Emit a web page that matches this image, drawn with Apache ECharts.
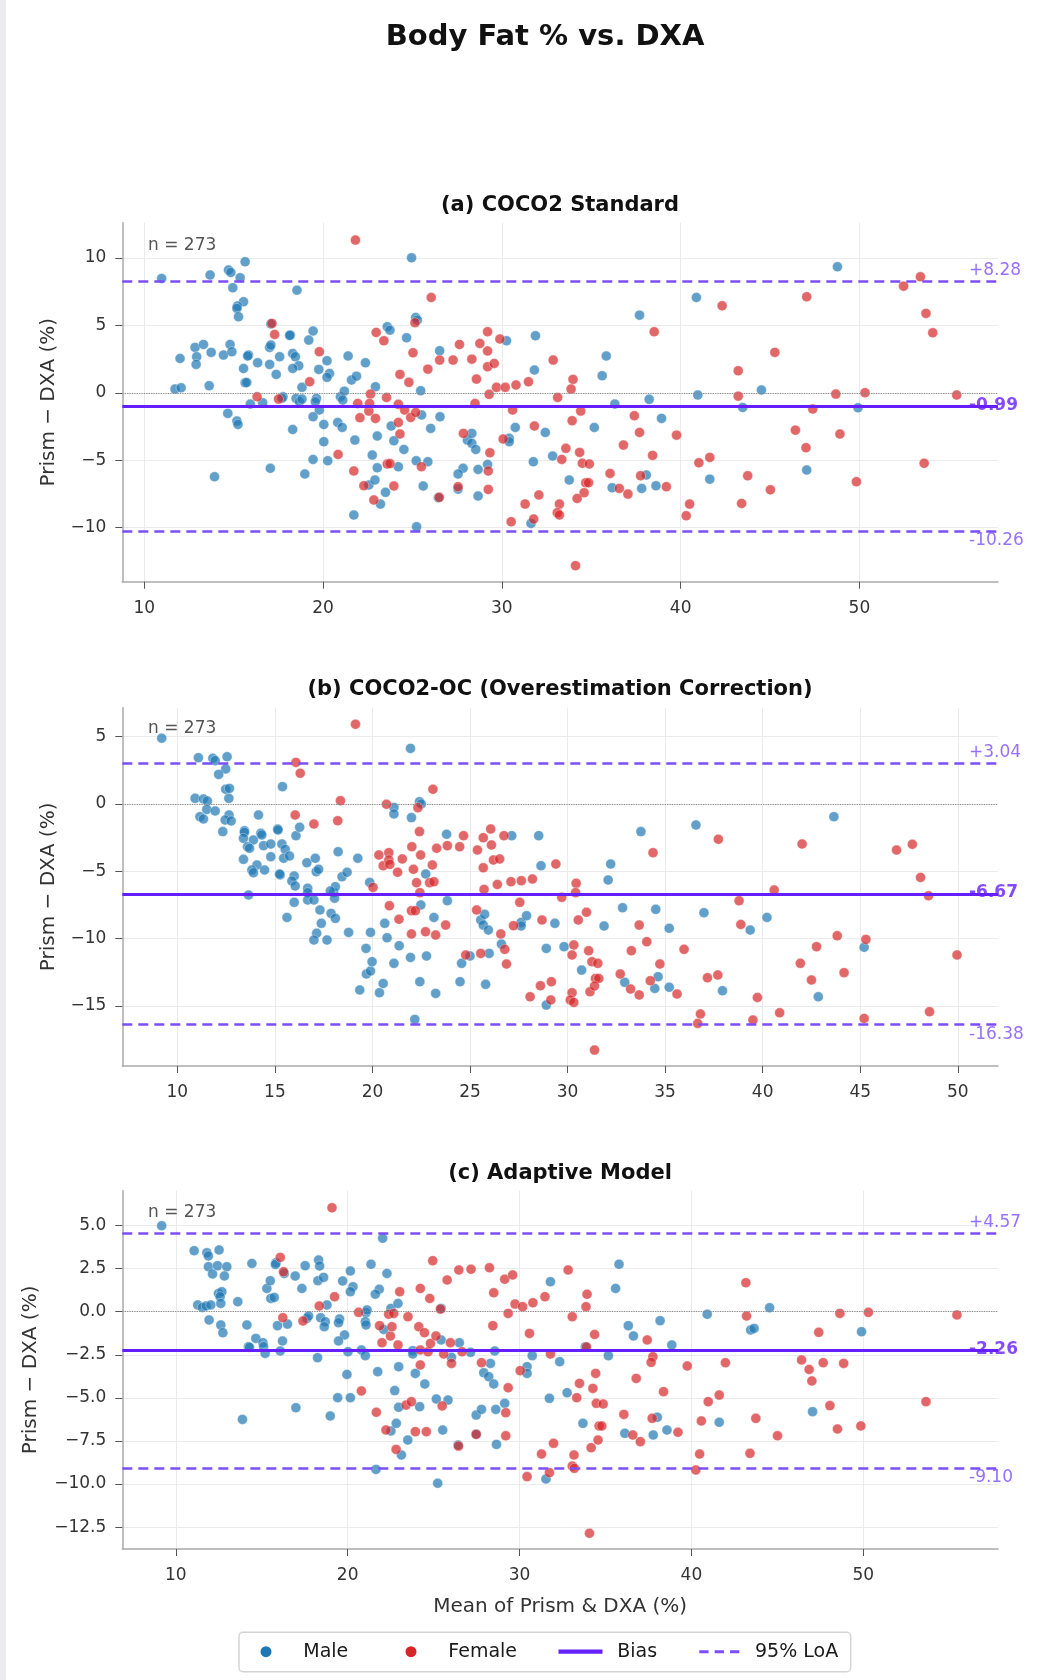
<!DOCTYPE html>
<html>
<head>
<meta charset="utf-8">
<title>Body Fat % vs. DXA</title>
<script src="https://cdn.jsdelivr.net/npm/echarts@6/dist/echarts.min.js"></script>
<style>
  html, body { margin: 0; padding: 0; background: #fff; }
  #chart { width: 1037px; height: 1680px; }
</style>
</head>
<body>
<div id="chart"></div>
<script>
// Bland-Altman points: [mean of Prism & DXA, Prism - DXA]
const coco2Male = [
  [10.97,8.47],[13.68,8.72],[14.71,9.09],[14.84,8.91],[15.64,9.70],[15.36,8.52],[14.95,7.78],[15.55,6.74],[15.21,6.42],[15.18,6.25],
  [15.27,5.63],[18.54,7.6],[17.08,5.1],[12.0,2.54],[12.84,3.36],[12.93,2.67],[12.9,2.10],[13.31,3.58],[13.74,2.99],[14.43,2.79],
  [14.8,3.58],[14.9,3.04],[15.83,2.79],[15.78,2.72],[16.34,2.22],[15.55,1.8],[17.01,3.36],[17.08,3.53],[17.57,2.67],[17.01,2.10],
  [17.38,1.36],[18.17,4.27],[18.13,4.25],[18.3,2.91],[18.45,2.67],[18.64,2.0],[18.3,1.8],[19.44,4.57],[19.2,3.9],[20.22,2.37],
  [19.76,1.73],[20.36,1.43],[20.22,1.14],[18.82,0.40],[15.64,0.74],[15.73,0.76],[11.72,0.27],[12.06,0.37],[13.63,0.52],[13.93,-6.22],
  [14.67,-1.53],[15.18,-2.1],[15.24,-2.35],[15.93,-0.84],[16.62,-0.74],[17.76,-0.3],[17.7,-0.4],[18.49,-0.42],[18.68,-0.67],[18.82,-0.47],
  [19.63,-0.42],[19.57,-0.67],[19.79,-1.28],[19.44,-1.78],[18.3,-2.72],[20.04,-2.35],[20.04,-3.63],[19.44,-4.94],[20.26,-5.04],[17.05,-5.6],
  [18.98,-6.02],[20.82,-2.2],[21.07,-2.57],[20.97,-0.3],[21.19,0.12],[21.1,-0.54],[21.4,2.72],[22.37,2.22],[21.59,0.94],[21.87,1.23],
  [22.93,0.44],[21.78,-3.51],[23.03,-3.21],[22.75,-4.62],[21.72,-9.06],[22.56,-6.84],[22.9,-6.47],[23.03,-5.56],[23.21,-8.25],[23.49,-7.38],
  [23.59,4.89],[23.74,4.64],[23.81,-2.47],[23.96,-3.56],[24.21,-5.48],[24.52,-4.2],[24.67,4.07],[25.18,5.58],[25.27,5.38],[24.95,10.0],
  [25.51,-1.65],[25.46,0.15],[25.21,-5.04],[25.23,-9.93],[25.6,-6.91],[25.86,-5.11],[26.02,-2.64],[26.52,3.11],[26.54,-1.78],[26.45,-7.78],
  [30.26,3.85],[28.07,-3.51],[28.32,-3.01],[28.32,-3.75],[28.54,-4.2],[30.41,-3.38],[30.41,-3.63],[30.75,-2.57],[27.83,-5.6],[27.55,-6.02],
  [28.67,-5.68],[29.2,-5.31],[27.55,-7.14],[28.67,-7.65],[31.88,4.22],[31.82,1.68],[32.43,-2.94],[31.76,-5.11],[32.84,-4.69],[33.77,-6.47],
  [31.63,-9.68],[35.17,-2.57],[35.61,1.26],[35.84,2.72],[36.32,-0.84],[36.17,-7.04],[37.7,5.75],[38.24,-0.49],[38.93,-1.9],[38.08,-6.1],
  [37.82,-7.09],[38.62,-6.89],[40.88,7.06],[40.96,-0.17],[41.63,-6.4],[43.47,-1.09],[44.52,0.2],[47.05,-5.73],[48.77,9.33],[49.92,-1.11]
];
const coco2Female = [
  [17.14,5.14],[17.29,4.32],[19.79,3.04],[19.25,0.81],[16.31,-0.3],[17.51,-0.47],[21.81,11.31],[21.94,-0.79],[22.06,-1.85],[22.56,-1.36],
  [22.65,-0.1],[22.6,-0.79],[22.93,-1.9],[20.84,-4.57],[21.72,-5.8],[22.28,-6.89],[22.84,-7.95],[22.97,4.47],[23.4,3.85],[23.55,-0.35],
  [23.59,-5.28],[23.74,-5.25],[23.96,-6.91],[24.21,-2.2],[24.3,-3.06],[24.21,-0.86],[24.56,-1.28],[24.3,1.36],[24.8,0.77],[25.14,5.19],
  [25.03,2.96],[24.9,-1.83],[25.18,-1.46],[25.5,-5.48],[25.86,1.75],[26.05,7.06],[26.52,2.42],[26.5,-7.75],[27.27,2.42],[27.63,3.58],
  [28.32,2.49],[28.58,1.01],[28.77,3.65],[29.2,4.52],[29.2,3.09],[29.2,1.93],[29.57,2.17],[29.89,3.98],[29.29,-0.12],[28.5,-0.79],
  [29.7,0.4],[30.19,0.4],[30.79,0.57],[30.6,-1.28],[27.85,-3.01],[29.33,-4.44],[30.07,-3.43],[29.24,-5.8],[27.55,-6.96],[29.24,-7.16],
  [30.52,-9.56],[32.87,2.42],[31.49,0.81],[33.12,-0.35],[33.98,0.99],[33.87,0.27],[34.41,-1.36],[33.93,-2.07],[31.82,-2.47],[33.35,-4.94],
  [33.58,-4.12],[34.35,-4.42],[34.5,-5.23],[34.89,-5.28],[34.69,-6.67],[34.85,-6.67],[34.6,-7.41],[34.21,-7.83],[33.22,-8.25],[33.1,-8.89],
  [33.22,-9.06],[32.07,-7.58],[31.3,-8.25],[31.78,-9.36],[34.12,-12.81],[36.05,-5.98],[36.57,-7.09],[37.05,-7.51],[36.8,-3.88],[37.41,-1.7],
  [37.7,-2.94],[38.52,4.52],[38.43,-4.64],[37.76,-6.15],[39.2,-6.96],[39.77,-3.14],[42.32,6.44],[41.02,-5.19],[41.63,-4.79],[40.5,-8.25],
  [40.31,-9.11],[43.22,1.63],[43.22,-0.25],[43.75,-6.15],[43.41,-8.2],[45.02,-7.19],[45.27,2.99],[46.42,-2.77],[47.01,-4.07],[47.05,7.11],
  [47.39,-1.21],[48.68,-0.1],[48.91,-3.06],[49.83,-6.59],[50.31,0.0],[52.47,7.9],[53.41,8.59],[53.72,5.88],[54.1,4.44],[53.62,-5.23],
  [55.44,-0.17]
];
const ocMale = [
  [9.2,4.88],[11.08,3.44],[11.82,3.39],[11.94,3.22],[12.55,3.51],[12.48,2.6],[12.12,2.2],[10.91,0.42],[11.34,0.37],[11.54,0.22],
  [11.16,-0.94],[11.34,-1.11],[11.51,-0.4],[11.94,-0.52],[12.48,1.09],[12.67,1.16],[12.64,0.42],[12.65,-0.82],[12.45,-1.19],[12.76,-1.26],
  [12.33,-2.05],[14.16,-0.82],[13.44,-1.98],[13.44,-2.1],[13.39,-2.55],[13.9,-2.67],[13.6,-3.17],[13.7,-3.29],[14.28,-2.18],[14.33,-2.3],
  [14.42,-3.09],[14.79,-2.97],[13.39,-4.11],[14.08,-4.53],[13.82,-4.9],[13.9,-5.1],[14.47,-4.9],[14.79,-3.91],[13.65,-6.76],[15.14,-1.86],
  [15.16,-1.93],[15.39,1.29],[15.36,-2.97],[15.53,-3.37],[15.45,-4.03],[15.75,-3.86],[15.27,-5.27],[15.24,-5.2],[15.99,-5.35],[15.87,-5.72],
  [16.04,-6.09],[16.08,-2.35],[16.27,-1.73],[15.62,-8.42],[15.99,-7.3],[16.64,-4.36],[17.07,-4.03],[17.12,-5.02],[17.24,-4.85],[16.68,-6.26],
  [16.68,-6.58],[16.68,-7.13],[17.0,-7.13],[17.31,-7.87],[17.38,-8.86],[17.14,-9.6],[17.0,-10.1],[17.67,-10.1],[17.88,-8.12],[18.1,-8.49],
  [18.01,-6.58],[18.1,-6.14],[18.06,-7.0],[17.84,-6.46],[18.24,-3.54],[18.44,-5.4],[18.7,-5.07],[18.78,-9.53],[19.25,-4.03],[19.86,-5.82],
  [19.9,-9.53],[19.67,-10.72],[19.69,-12.62],[19.9,-12.4],[19.98,-11.71],[19.35,-13.81],[20.36,-14.01],[20.55,-13.32],[20.63,-8.86],[20.75,-9.93],
  [21.1,-0.25],[21.1,-0.74],[21.1,-11.83],[21.37,-10.52],[22.0,-1.01],[21.95,4.13],[22.41,0.17],[22.5,0.0],[22.73,-5.2],[22.48,-7.5],
  [23.15,-8.42],[21.95,-11.39],[22.77,-11.29],[22.43,-13.19],[23.24,-14.06],[22.17,-15.99],[23.8,-2.25],[23.84,-7.18],[24.57,-11.83],[24.49,-13.19],
  [25.0,-11.29],[25.55,-8.61],[25.75,-8.19],[25.68,-8.99],[25.94,-9.36],[25.98,-11.09],[25.8,-13.39],[26.61,-10.4],[27.14,-2.35],[28.52,-2.35],
  [28.64,-4.58],[27.62,-8.79],[27.62,-9.06],[27.9,-8.29],[29.35,-8.86],[28.91,-10.72],[29.82,-10.59],[30.72,-12.33],[28.91,-14.93],[32.08,-5.64],
  [32.21,-4.46],[31.87,-9.06],[32.82,-7.7],[32.93,-13.24],[33.76,-2.05],[34.52,-7.82],[34.64,-12.82],[34.47,-13.69],[35.21,-9.23],[35.21,-13.61],
  [36.58,-1.56],[36.99,-8.07],[37.94,-13.86],[39.36,-9.36],[40.22,-8.42],[42.85,-14.31],[43.65,-0.94],[45.2,-10.64]
];
const ocFemale = [
  [16.04,-0.82],[16.08,3.09],[16.3,2.28],[17.0,-1.49],[18.22,-1.24],[18.36,0.25],[19.13,5.92],[20.03,-6.19],[20.72,-0.02],[20.87,-7.55],
  [20.33,-3.79],[20.55,-4.58],[20.84,-3.61],[20.84,-4.16],[20.89,-4.48],[21.29,-5.07],[21.53,-4.08],[21.36,-8.56],[22.33,-0.27],[22.41,-2.05],
  [22.02,-3.17],[22.47,-3.79],[22.1,-4.85],[22.26,-5.84],[22.43,-6.58],[22.0,-7.92],[22.2,-7.92],[22.93,-5.84],[23.15,-5.77],[23.07,-4.53],
  [23.29,-3.29],[23.1,1.09],[22.0,-9.65],[22.72,-9.48],[23.24,-9.73],[23.84,-3.09],[23.75,-8.99],[24.47,-3.17],[24.67,-2.35],[24.78,-11.21],
  [25.38,-3.42],[25.68,-2.5],[25.68,-4.73],[26.06,-1.86],[26.1,-3.04],[26.2,-4.16],[26.52,-4.08],[26.74,-2.35],[25.72,-6.34],[25.34,-7.87],
  [25.55,-11.09],[26.4,-5.97],[26.58,-9.65],[26.78,-10.79],[26.87,-11.88],[27.1,-5.77],[27.63,-5.69],[28.2,-5.57],[27.55,-7.3],[29.4,-4.46],
  [29.7,-6.93],[30.44,-5.89],[30.41,-6.58],[30.97,-8.04],[30.55,-8.61],[27.23,-9.03],[28.69,-8.61],[30.32,-10.47],[30.23,-11.21],[31.08,-10.89],
  [31.25,-11.71],[31.55,-11.83],[31.43,-12.95],[31.6,-12.95],[31.15,-13.94],[31.38,-13.51],[29.17,-13.19],[28.61,-13.49],[28.08,-14.31],[29.14,-14.55],
  [30.23,-14.01],[30.14,-14.55],[30.32,-14.73],[31.38,-18.27],[32.7,-12.62],[33.23,-13.74],[33.27,-10.89],[33.67,-14.18],[33.67,-8.99],[34.06,-10.22],
  [34.38,-3.61],[34.73,-11.88],[34.24,-13.12],[35.61,-14.11],[35.97,-10.79],[37.17,-12.9],[37.7,-12.7],[37.73,-2.62],[36.81,-15.59],[36.67,-16.29],
  [38.79,-7.18],[38.88,-8.94],[39.5,-16.04],[39.73,-14.36],[40.59,-6.39],[40.87,-15.5],[42.02,-2.97],[41.93,-11.83],[42.5,-13.07],[42.76,-10.59],
  [43.82,-9.78],[44.17,-12.52],[45.29,-10.05],[45.2,-15.92],[46.86,-3.42],[47.67,-2.99],[48.09,-5.45],[48.5,-6.81],[48.55,-15.42],[49.96,-11.21]
];
const adaptMale = [
  [9.18,4.99],[11.07,3.54],[11.81,3.42],[11.9,3.23],[12.52,3.58],[11.9,2.61],[12.14,2.19],[12.43,2.67],[12.97,2.61],[12.83,2.07],
  [11.28,0.39],[11.55,0.25],[11.77,0.33],[12.04,0.39],[12.49,1.06],[12.68,1.16],[12.58,0.87],[12.62,0.48],[11.94,-0.48],[12.62,-0.77],
  [12.74,-1.22],[13.61,0.58],[13.88,-6.25],[14.14,-0.77],[14.43,2.8],[14.66,-1.55],[14.23,-2.03],[14.29,-2.07],[15.07,-1.8],[15.11,-2.03],
  [15.2,-2.42],[15.3,1.35],[15.5,1.8],[15.53,0.77],[15.73,0.83],[15.83,2.84],[15.8,2.74],[16.31,2.22],[15.92,-0.81],[16.5,-0.72],
  [16.21,-1.7],[16.08,-2.28],[16.95,2.07],[17.34,1.35],[17.53,2.67],[16.99,-5.57],[17.63,-0.39],[17.73,-0.25],[18.31,3.0],[18.37,2.65],
  [18.27,1.8],[18.6,1.99],[18.8,0.39],[18.43,-0.35],[18.7,-0.58],[18.64,-0.87],[18.25,-2.67],[18.99,-6.05],[19.71,1.78],[20.16,2.36],
  [20.31,1.45],[20.16,1.16],[19.53,-0.43],[19.47,-0.64],[19.82,-1.35],[19.47,-1.7],[20.02,-2.32],[19.96,-3.64],[19.42,-4.99],[20.16,-4.99],
  [21.07,-0.06],[21.13,0.1],[21.03,-0.58],[21.07,-0.77],[20.8,-2.22],[21.03,-2.55],[21.36,2.75],[21.84,1.3],[21.61,1.01],[22.04,4.26],
  [22.29,2.22],[22.1,-1.03],[22.52,0.19],[22.93,0.48],[21.75,-3.48],[22.97,-3.19],[22.74,-4.58],[21.65,-9.15],[22.52,-6.92],[22.83,-6.48],
  [22.97,-5.55],[23.13,-8.32],[23.5,-7.45],[23.79,-2.26],[23.79,-2.45],[23.94,-3.58],[24.19,-5.51],[24.49,-4.2],[25.16,-5.07],[25.84,-5.13],
  [25.53,-6.87],[25.24,-9.96],[25.44,0.19],[25.44,-1.64],[26.04,-2.65],[26.5,-1.8],[27.15,-2.36],[26.43,-7.74],[27.48,-6.0],[27.79,-5.67],
  [27.48,-7.1],[28.31,-3.0],[27.92,-3.54],[28.21,-3.77],[28.5,-4.2],[28.56,-2.28],[28.62,-5.67],[28.66,-7.7],[31.8,1.74],[33.83,-2.03],
  [30.74,-2.55],[32.34,-2.9],[30.44,-3.19],[30.44,-3.58],[29.14,-5.32],[31.74,-5.03],[32.77,-4.7],[33.69,-6.48],[31.54,-9.71],[35.17,-2.55],
  [35.59,1.35],[35.79,2.75],[36.33,-0.81],[36.63,-1.41],[36.13,-7.06],[38.18,-0.52],[38.86,-1.93],[38.02,-6.13],[37.78,-7.16],[38.58,-6.87],
  [40.92,-0.15],[41.62,-6.42],[43.45,-1.06],[43.65,-0.97],[44.55,0.23],[47.05,-5.8],[49.9,-1.16]
];
const adaptFemale = [
  [19.09,6.03],[16.08,3.15],[16.27,2.32],[16.23,-0.35],[17.4,-0.54],[18.35,0.33],[19.24,0.87],[20.64,-0.04],[20.8,-4.6],[21.86,-0.81],
  [22.0,-1.8],[22.49,-1.41],[22.58,-0.87],[22.39,-0.15],[22.68,-0.1],[23.03,1.16],[22.93,-1.93],[23.51,-0.29],[21.67,-5.84],[22.23,-6.87],
  [22.82,-7.99],[23.4,-5.42],[23.71,-5.22],[23.94,-6.96],[24.58,-6.96],[24.23,1.35],[24.14,-0.87],[24.47,-1.22],[24.78,0.77],[24.23,-2.22],
  [24.68,-2.32],[24.82,-1.84],[25.14,-1.41],[24.23,-3.09],[25.5,-5.47],[24.95,2.96],[25.4,0.15],[25.79,1.84],[25.98,-1.8],[25.59,-2.46],
  [26.04,-3.0],[26.47,2.42],[26.66,-2.32],[27.18,2.46],[26.45,-7.8],[27.48,-7.12],[27.79,-2.96],[28.25,2.55],[28.5,1.1],[28.45,-0.81],
  [29.14,1.88],[29.6,2.13],[29.74,0.44],[30.18,0.29],[29.34,-0.1],[30.78,0.52],[31.48,0.87],[32.83,2.42],[30.58,-1.26],[33.07,-0.29],
  [33.93,1.01],[33.87,0.29],[34.37,-1.32],[33.9,-2.05],[31.8,-2.46],[30.04,-3.42],[29.34,-4.41],[29.2,-5.86],[29.2,-7.2],[33.49,-4.16],
  [33.33,-4.99],[34.43,-3.58],[34.27,-4.45],[34.47,-5.32],[34.87,-5.36],[34.63,-6.63],[34.79,-6.63],[34.57,-7.45],[31.98,-7.64],[31.28,-8.26],
  [33.17,-8.32],[33.07,-8.96],[33.19,-9.09],[31.74,-9.34],[30.44,-9.57],[34.17,-7.89],[34.07,-12.86],[36.07,-5.96],[36.59,-7.16],[37.03,-7.54],
  [36.79,-3.87],[37.43,-1.64],[37.76,-2.61],[37.66,-2.94],[38.38,-4.64],[37.72,-6.19],[39.22,-7.0],[39.76,-3.15],[40.98,-5.22],[40.58,-6.34],
  [40.48,-8.26],[40.26,-9.19],[41.62,-4.84],[41.98,-2.96],[43.17,1.68],[43.21,-0.25],[43.75,-6.19],[43.41,-8.22],[45.01,-7.2],[46.41,-2.8],
  [46.85,-3.35],[47.01,-4.02],[47.41,-1.2],[47.67,-2.96],[48.06,-5.45],[48.5,-6.81],[48.64,-0.1],[48.86,-3.0],[49.86,-6.63],[50.3,-0.04],
  [53.65,-5.22],[55.45,-0.19]
];

// agreement statistics per panel
const biasValues = [-0.99, -6.67, -2.26];
const loaUpper = [8.28, 3.04, 4.57];
const loaLower = [-10.26, -16.38, -9.10];
const sampleSize = 273;

// tick labels
const xTicksA = [10, 20, 30, 40, 50];
const xTicksB = [10, 15, 20, 25, 30, 35, 40, 45, 50];
const xTicksC = [10, 20, 30, 40, 50];
const yTicksA = [-10, -5, 0, 5, 10];
const yTicksB = [-15, -10, -5, 0, 5];
const yTicksC = [-12.5, -10, -7.5, -5, -2.5, 0, 2.5, 5];

const legendNames = ['Male', 'Female', 'Bias', '95% LoA'];

const FONT = 'DejaVu Sans';
const MALE_C = '#1f77b4';
const FEMALE_C = '#d62728';
const BIAS_C = '#651fff';
const LOA_C = '#7c4dff';

const panels = [
  { title: '(a) COCO2 Standard', male: coco2Male, female: coco2Female,
    xMin: 8.77, xMax: 57.75, yMin: -14.0, yMax: 12.6, top: 222.7, height: 359,
    xTicks: xTicksA, yTicks: yTicksA, yDec: 0, titleTop: 195, nTop: 237, nameGap: 64 },
  { title: '(b) COCO2-OC (Overestimation Correction)', male: ocMale, female: ocFemale,
    xMin: 7.18, xMax: 52.06, yMin: -19.45, yMax: 7.15, top: 707.7, height: 358.3,
    xTicks: xTicksB, yTicks: yTicksB, yDec: 0, titleTop: 679, nTop: 720, nameGap: 64 },
  { title: '(c) Adaptive Model', male: adaptMale, female: adaptFemale,
    xMin: 6.89, xMax: 57.84, yMin: -13.77, yMax: 7.02, top: 1190.7, height: 358.3,
    xTicks: xTicksC, yTicks: yTicksC, yDec: 1, titleTop: 1163, nTop: 1204.5, nameGap: 82 }
];

function fmtSigned(v, dec) {
  const s = Math.abs(v).toFixed(dec);
  return v < 0 ? '\u2212' + s : s;
}

const chart = echarts.init(document.getElementById('chart'), null, { renderer: 'canvas' });

const grids = [], xAxes = [], yAxes = [], series = [];
const titles = [{
  text: 'Body Fat % vs. DXA', left: 545, top: 23, padding: 0, textAlign: 'center',
  textStyle: { fontFamily: FONT, fontSize: 29, fontWeight: 'bold', color: '#111' }
}];

panels.forEach((p, i) => {
  grids.push({ left: 122.3, right: 39, top: p.top, height: p.height, outerBoundsMode: 'none', containLabel: false });

  xAxes.push({
    type: 'value', gridIndex: i, min: p.xMin, max: p.xMax,
    name: i === 2 ? 'Mean of Prism & DXA (%)' : '',
    nameLocation: 'middle', nameGap: 48,
    nameTextStyle: { fontFamily: FONT, fontSize: 20, color: '#333' },
    axisLine: { show: true, onZero: false, lineStyle: { color: '#aaaaaa', width: 1.5 } },
    axisTick: { show: true, customValues: p.xTicks, length: 7, lineStyle: { color: '#555', width: 1 } },
    axisLabel: { customValues: p.xTicks, margin: 18, fontFamily: FONT, fontSize: 17, color: '#333',
      formatter: v => String(v) },
    splitLine: { show: true, lineStyle: { color: '#ebebeb', width: 1 } }
  });

  yAxes.push({
    type: 'value', gridIndex: i, min: p.yMin, max: p.yMax,
    name: 'Prism \u2212 DXA (%)', nameLocation: 'middle', nameGap: p.nameGap, nameRotate: 90,
    nameTextStyle: { fontFamily: FONT, fontSize: 20, color: '#333' },
    axisLine: { show: true, onZero: false, lineStyle: { color: '#aaaaaa', width: 1.5 } },
    axisTick: { show: true, customValues: p.yTicks, length: 7, lineStyle: { color: '#555', width: 1 } },
    axisLabel: { customValues: p.yTicks, margin: 16, fontFamily: FONT, fontSize: 17, color: '#333',
      formatter: v => fmtSigned(v, p.yDec) },
    splitLine: { show: true, lineStyle: { color: '#ebebeb', width: 1 } }
  });

  titles.push({
    text: p.title, left: 560, top: p.titleTop, padding: 0, textAlign: 'center',
    textStyle: { fontFamily: FONT, fontSize: 21, fontWeight: 'bold', color: '#111' }
  });
  titles.push({
    text: 'n = ' + sampleSize, left: 148, top: p.nTop, padding: 0,
    textStyle: { fontFamily: FONT, fontSize: 17, fontWeight: 'normal', color: '#555' }
  });

  const dotStyle = c => ({ color: c, opacity: 0.7, borderColor: '#ffffff', borderWidth: 0.5 });

  series.push({
    name: 'zero', type: 'line', xAxisIndex: i, yAxisIndex: i, data: [], z: 1,
    markLine: { silent: true, animation: false, symbol: ['none', 'none'], label: { show: false },
      lineStyle: { color: '#888888', width: 1.2, type: 'dotted' }, data: [{ yAxis: 0 }] }
  });
  series.push({
    name: 'Male', type: 'scatter', xAxisIndex: i, yAxisIndex: i, data: p.male, z: 2,
    symbolSize: 10, itemStyle: dotStyle(MALE_C), emphasis: { disabled: true }
  });
  series.push({
    name: 'Female', type: 'scatter', xAxisIndex: i, yAxisIndex: i, data: p.female, z: 2,
    symbolSize: 10, itemStyle: dotStyle(FEMALE_C), emphasis: { disabled: true }
  });
  series.push({
    name: 'Bias', type: 'line', xAxisIndex: i, yAxisIndex: i, data: [], z: 3, color: BIAS_C,
    markLine: { silent: true, animation: false, symbol: ['none', 'none'], label: { show: false },
      lineStyle: { color: BIAS_C, width: 3, type: 'solid' }, data: [{ yAxis: biasValues[i] }] }
  });
  series.push({
    name: '95% LoA', type: 'line', xAxisIndex: i, yAxisIndex: i, data: [], z: 3, color: LOA_C,
    markLine: { silent: true, animation: false, symbol: ['none', 'none'], label: { show: false },
      lineStyle: { color: LOA_C, width: 2.5, type: [10, 6] },
      data: [{ yAxis: loaUpper[i] }, { yAxis: loaLower[i] }] }
  });
  // value labels at the right end of each reference line
  series.push({
    name: 'stat labels', type: 'scatter', xAxisIndex: i, yAxisIndex: i, z: 4, clip: false,
    symbolSize: 0, silent: true, emphasis: { disabled: true },
    data: [
      { value: [p.xMax, loaUpper[i]], label: { show: true, position: 'inside', align: 'left', verticalAlign: 'bottom',
          offset: [-29, -2], formatter: '+' + loaUpper[i].toFixed(2), color: LOA_C, fontFamily: FONT, fontSize: 17 } },
      { value: [p.xMax, loaLower[i]], label: { show: true, position: 'inside', align: 'left', verticalAlign: 'top',
          offset: [-29, 1], formatter: loaLower[i].toFixed(2), color: LOA_C, fontFamily: FONT, fontSize: 17 } },
      { value: [p.xMax, biasValues[i]], label: { show: true, position: 'inside', align: 'left', verticalAlign: 'middle',
          offset: [-29, -1], formatter: biasValues[i].toFixed(2), color: BIAS_C, fontFamily: FONT, fontSize: 17, fontWeight: 'bold' } }
    ]
  });
});

// legend box drawn with graphic elements so each handle sits where the reference has it
const LEG_Y = 1651.7;
const legendText = (txt, x) => ({
  type: 'text', x: x, y: LEG_Y + 0.5, silent: true,
  style: { text: txt, fill: '#1a1a1a', fontFamily: FONT, fontSize: 19, align: 'left', verticalAlign: 'middle' }
});
const legendGraphic = [
  { type: 'rect', silent: true, shape: { x: 239, y: 1632.3, width: 611.7, height: 39.4, r: 4 },
    style: { fill: '#ffffff', stroke: '#d4d4d4', lineWidth: 1.5 } },
  { type: 'circle', silent: true, shape: { cx: 266, cy: LEG_Y, r: 5.5 }, style: { fill: MALE_C } },
  legendText(legendNames[0], 303.3),
  { type: 'circle', silent: true, shape: { cx: 411, cy: LEG_Y, r: 5.5 }, style: { fill: FEMALE_C } },
  legendText(legendNames[1], 448.3),
  { type: 'line', silent: true, shape: { x1: 558.5, y1: LEG_Y, x2: 602.5, y2: LEG_Y },
    style: { stroke: BIAS_C, lineWidth: 4.2 } },
  legendText(legendNames[2], 617.3),
  { type: 'line', silent: true, shape: { x1: 699.3, y1: LEG_Y, x2: 739.3, y2: LEG_Y },
    style: { stroke: LOA_C, lineWidth: 3, lineDash: [9.3, 6.05] } },
  legendText(legendNames[3], 755)
];

chart.setOption({
  animation: false,
  backgroundColor: '#ffffff',
  textStyle: { fontFamily: FONT },
  title: titles,
  grid: grids,
  xAxis: xAxes,
  yAxis: yAxes,
  graphic: [
    { type: 'rect', left: 0, top: 0, silent: true, z: -10,
      shape: { width: 6, height: 1680 }, style: { fill: '#ebebf0' } }
  ].concat(legendGraphic),
  series: series
});
</script>
</body>
</html>
